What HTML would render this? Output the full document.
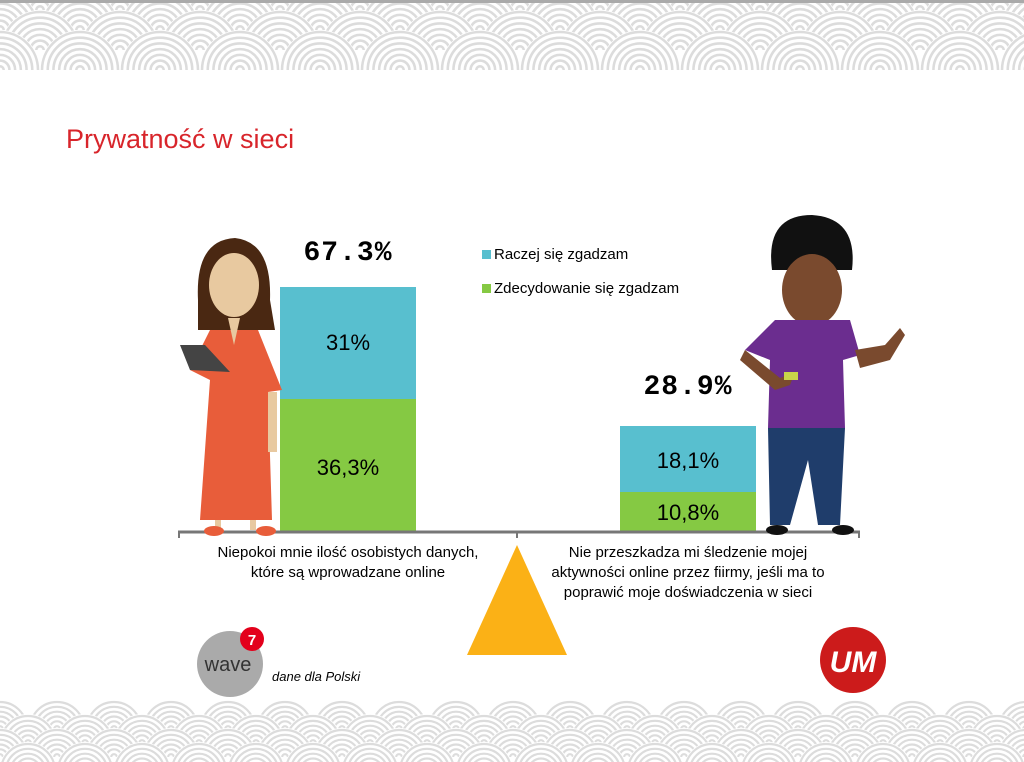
<!DOCTYPE html>
<html><head><meta charset="utf-8"><style>
html,body{margin:0;width:1024px;height:762px;overflow:hidden;background:#fff;font-family:"Liberation Sans",sans-serif;position:relative}
.a{position:absolute}
</style></head><body>
<svg class="a" style="left:0;top:0" width="1024" height="762" id="bg"></svg>
<div class="a" style="left:66px;top:124px;font-size:27px;color:#d8252b">Prywatność w sieci</div>
<div class="a" style="left:280px;top:287px;width:136px;height:112px;background:#58bfcf"></div>
<div class="a" style="left:280px;top:399px;width:136px;height:132px;background:#85c943"></div>
<div class="a" style="left:620px;top:426px;width:136px;height:66px;background:#58bfcf"></div>
<div class="a" style="left:620px;top:492px;width:136px;height:39px;background:#85c943"></div>
<div class="a" style="left:280px;top:330px;width:136px;text-align:center;font-size:22px">31%</div>
<div class="a" style="left:280px;top:455px;width:136px;text-align:center;font-size:22px">36,3%</div>
<div class="a" style="left:620px;top:448px;width:136px;text-align:center;font-size:22px">18,1%</div>
<div class="a" style="left:620px;top:500px;width:136px;text-align:center;font-size:22px">10,8%</div>
<div class="a" style="left:280px;top:238px;width:136px;text-align:center;font-size:28px;font-family:'Liberation Mono',monospace;font-weight:bold;letter-spacing:1px">67.3%</div>
<div class="a" style="left:620px;top:372px;width:136px;text-align:center;font-size:28px;font-family:'Liberation Mono',monospace;font-weight:bold;letter-spacing:1px">28.9%</div>
<div class="a" style="left:482px;top:246px;font-size:15px"><span style="display:inline-block;width:9px;height:9px;background:#58bfcf;margin-right:3px"></span>Raczej się zgadzam</div>
<div class="a" style="left:482px;top:280px;font-size:15px"><span style="display:inline-block;width:9px;height:9px;background:#85c943;margin-right:3px"></span>Zdecydowanie się zgadzam</div>
<div class="a" style="left:178px;top:543px;width:340px;text-align:center;font-size:15px;line-height:20px">Niepokoi mnie ilość osobistych danych,<br>które są wprowadzane online</div>
<div class="a" style="left:518px;top:543px;width:340px;text-align:center;font-size:15px;line-height:20px">Nie przeszkadza mi śledzenie mojej<br>aktywności online przez fiirmy, jeśli ma to<br>poprawić moje doświadczenia w sieci</div>
<div class="a" style="left:272px;top:669px;font-size:13px;font-style:italic">dane dla Polski</div>
<svg class="a" style="left:0;top:0" width="1024" height="762">
<line x1="178" y1="532" x2="860" y2="532" stroke="#777" stroke-width="3"/>
<line x1="179" y1="531" x2="179" y2="538" stroke="#777" stroke-width="2"/>
<line x1="517" y1="531" x2="517" y2="538" stroke="#777" stroke-width="2"/>
<line x1="859" y1="531" x2="859" y2="538" stroke="#777" stroke-width="2"/>
<polygon points="517,545 467,655 567,655" fill="#fbb116"/>
<path d="M198,300 Q195,240 235,238 Q272,242 270,300 L275,330 L198,330Z" fill="#4a2812"/>
<ellipse cx="234" cy="285" rx="25" ry="32" fill="#e8c9a0"/>
<path d="M210,330 L258,330 L282,390 L268,392 L272,520 L200,520 L210,380 L190,370Z" fill="#e85d3a"/>
<path d="M228,318 L240,318 L234,345Z" fill="#e8c9a0"/>
<rect x="215" y="520" width="6" height="10" fill="#e8c9a0"/><rect x="250" y="520" width="6" height="10" fill="#e8c9a0"/>
<ellipse cx="214" cy="531" rx="10" ry="5" fill="#e85d3a"/><ellipse cx="266" cy="531" rx="10" ry="5" fill="#e85d3a"/>
<polygon points="180,345 205,345 230,372 190,370" fill="#444"/>
<rect x="268" y="392" width="9" height="60" fill="#e8c9a0"/>
<path d="M772,270 Q765,215 812,215 Q858,218 852,270 Z" fill="#111"/>
<ellipse cx="812" cy="290" rx="30" ry="36" fill="#7a4a2e"/>
<path d="M775,320 L850,320 L860,355 L843,360 L845,428 L768,428 L770,360 L745,350Z" fill="#6b2d8f"/>
<path d="M768,428 L845,428 L840,525 L818,525 L808,460 L790,525 L770,525Z" fill="#1f3d6b"/>
<ellipse cx="777" cy="530" rx="11" ry="5" fill="#111"/><ellipse cx="843" cy="530" rx="11" ry="5" fill="#111"/>
<path d="M745,350 L780,378 L795,372 L790,385 L775,390 L740,360Z" fill="#7a4a2e"/>
<path d="M855,350 L885,345 L900,328 L905,335 L890,360 L860,368Z" fill="#7a4a2e"/>
<rect x="784" y="372" width="14" height="8" fill="#c8d44a"/>
<circle cx="230" cy="664" r="33" fill="#aaa"/>
<text x="228" y="671" font-family="Liberation Sans" font-size="20" fill="#333" text-anchor="middle">wave</text>
<circle cx="252" cy="639" r="12" fill="#e3001b"/>
<text x="252" y="645" font-family="Liberation Sans" font-size="15" font-weight="bold" fill="#fff" text-anchor="middle">7</text>
<circle cx="853" cy="660" r="33" fill="#cc1b1b"/>
<text x="853" y="672" font-family="Liberation Sans" font-size="30" font-weight="bold" font-style="italic" fill="#fff" text-anchor="middle">UM</text>
</svg>
<script>
var s=document.getElementById('bg'),h='';
function arc(cx,cy,r){return 'M'+(cx-r)+','+cy+' A'+r+','+r+' 0 0 1 '+(cx+r)+','+cy;}
function scale(cx,cy,r,n){h+='<path d="'+arc(cx,cy,r)+' Z" fill="#fff"/>';for(var i=0;i<n;i++){var rr=r-2-i*r/n;if(rr<2)break;h+='<path d="'+arc(cx,cy,rr)+'" fill="none" stroke="#dcdcdc" stroke-width="'+(r/n*0.45)+'"/>';}}
h+='<clipPath id="ct"><rect x="0" y="0" width="1024" height="72"/></clipPath><g clip-path="url(#ct)">';
var rows=[10,30,50,70];
for(var j=0;j<rows.length;j++){var off=(j%2)?0:40;for(var x=-80+off;x<1110;x+=80)scale(x,rows[j],40,7);}
h+='</g><rect x="0" y="0" width="1024" height="3" fill="#aaa"/>';
h+='<clipPath id="cb"><rect x="0" y="690" width="1024" height="72"/></clipPath><g clip-path="url(#cb)">';
var r2=[729,743,757,771];
for(var j=0;j<r2.length;j++){var off=(j%2)?28:0;for(var x=-57+off;x<1090;x+=57)scale(x,r2[j],29,6);}
h+='</g>';
s.innerHTML=h;
</script>
</body></html>
